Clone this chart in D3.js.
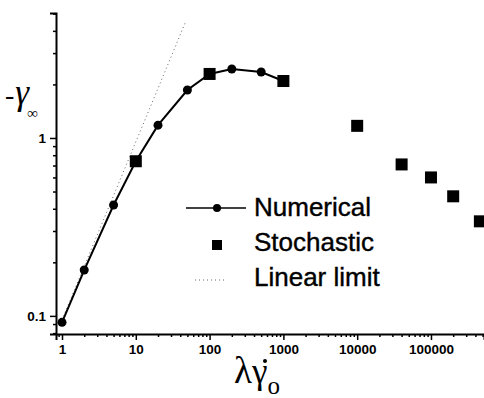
<!DOCTYPE html>
<html lang="en">
<head>
  <meta charset="UTF-8">
  <title>Gamma infinity vs shear rate</title>
  <script src="https://d3js.org/d3.v7.min.js"></script>
  <style>
    body { margin: 0; background: #fff; }
    .tick text { font: bold 13.5px "Liberation Sans", Arial, sans-serif; fill: #000; }
    .legend text { font: 26px "Liberation Sans", Arial, sans-serif; fill: #000; stroke: #000; stroke-width: 0.4px; }
    .ttl { font-family: "Liberation Serif", "Times New Roman", serif; fill: #000; }
  </style>
</head>
<body>
  <svg width="484" height="398"></svg>
  <script>
    // numerical solution
    const numX = [1, 2, 5, 10, 20, 50, 100, 200, 500, 1000];
    const numY = [0.092, 0.181, 0.42, 0.74, 1.18, 1.86, 2.29, 2.44, 2.35, 2.09];
    // stochastic simulation
    const stoX = [10, 100, 1000, 10000, 40000, 100000, 200000, 460000];
    const stoY = [0.74, 2.29, 2.09, 1.17, 0.71, 0.60, 0.47, 0.34];
    // linear limit
    const linX = [1, 47];
    const linY = [0.095, 4.47];

    const xTicks = [1, 10, 100, 1000, 10000, 100000];
    const yTicks = [0.1, 1];

    const svg = d3.select("svg");

    const x = d3.scaleLog().domain([0.829, 5.23e5]).range([56, 484]);
    const y = d3.scaleLog().domain([0.0791, 5.04]).range([334, 13]);

    // minor ticks
    const xMinor = [];
    for (let e = -1; e <= 5; e++) for (let m = 2; m <= 9; m++) {
      const v = m * Math.pow(10, e);
      if (v > 0.829 && v < 5.23e5) xMinor.push(v);
    }
    const yMinor = [];
    for (let e = -2; e <= 0; e++) for (let m = 2; m <= 9; m++) {
      const v = m * Math.pow(10, e);
      if (v > 0.0791 && v <= 5.04) yMinor.push(v);
    }

    const xAxis = svg.append("g").attr("transform", "translate(0,334)");
    xAxis.call(d3.axisBottom(x).tickValues(xTicks).tickFormat(d3.format("d")).tickSize(6).tickPadding(4));
    xAxis.append("g").call(d3.axisBottom(x).tickValues(xMinor).tickFormat("").tickSize(3))
      .select(".domain").remove();

    const yAxis = svg.append("g").attr("transform", "translate(56,0)");
    yAxis.call(d3.axisLeft(y).tickValues(yTicks).tickFormat(d => d === 1 ? "1" : "0.1").tickSize(6).tickPadding(4));
    yAxis.append("g").call(d3.axisLeft(y).tickValues(yMinor).tickFormat("").tickSize(3))
      .select(".domain").remove();

    svg.selectAll(".domain").attr("stroke", "#000").attr("stroke-width", 2);
    svg.selectAll(".tick line").attr("stroke", "#000").attr("stroke-width", 1.5);

    // linear limit
    const line = d3.line().x(d => x(d[0])).y(d => y(d[1]));
    svg.append("path")
      .datum(d3.zip(linX, linY))
      .attr("d", line)
      .attr("fill", "none")
      .attr("stroke", "#666")
      .attr("stroke-width", 1)
      .attr("stroke-dasharray", "1,3");

    // numerical
    svg.append("path")
      .datum(d3.zip(numX, numY))
      .attr("d", line)
      .attr("fill", "none")
      .attr("stroke", "#000")
      .attr("stroke-width", 2);
    svg.append("g").selectAll("circle")
      .data(d3.zip(numX, numY))
      .join("circle")
      .attr("cx", d => x(d[0]))
      .attr("cy", d => y(d[1]))
      .attr("r", 4.5)
      .attr("fill", "#000");

    // stochastic
    const sq = 12;
    svg.append("g").selectAll("rect")
      .data(d3.zip(stoX, stoY))
      .join("rect")
      .attr("x", d => x(d[0]) - sq / 2)
      .attr("y", d => y(d[1]) - sq / 2)
      .attr("width", sq)
      .attr("height", sq)
      .attr("fill", "#000");

    // legend
    const lg = svg.append("g").attr("class", "legend");
    lg.append("line").attr("x1", 186).attr("x2", 246).attr("y1", 208).attr("y2", 208)
      .attr("stroke", "#000").attr("stroke-width", 1.5);
    lg.append("circle").attr("cx", 217).attr("cy", 208).attr("r", 4).attr("fill", "#000");
    lg.append("text").attr("x", 254).attr("y", 216).text("Numerical");
    lg.append("rect").attr("x", 212).attr("y", 240).attr("width", 10).attr("height", 10).attr("fill", "#000");
    lg.append("text").attr("x", 254).attr("y", 251).text("Stochastic");
    lg.append("line").attr("x1", 195).attr("x2", 224).attr("y1", 280).attr("y2", 280)
      .attr("stroke", "#666").attr("stroke-width", 1).attr("stroke-dasharray", "1,3");
    lg.append("text").attr("x", 254).attr("y", 286).text("Linear limit");

    // x axis title: lambda, gamma-dot, subscript o
    const xt = svg.append("text").attr("class", "ttl").attr("x", 234).attr("y", 383);
    xt.append("tspan").style("font-size", "37px").text("λ");
    xt.append("tspan").style("font-size", "35px").text("γ");
    xt.append("tspan").attr("dx", 0).attr("dy", 11).style("font-size", "25px").text("o");
    svg.append("circle").attr("cx", 265).attr("cy", 361).attr("r", 2).attr("fill", "#000");

    // y axis title
    const yt = svg.append("text").attr("class", "ttl").attr("x", 5).attr("y", 104);
    yt.append("tspan").style("font-size", "28px").text("-");
    yt.append("tspan").attr("dx", 1).style("font-size", "35px").style("font-style", "italic").text("γ");
    yt.append("tspan").attr("dx", -2).attr("dy", 14).style("font-size", "15px").style("font-weight", "bold").text("∞");
  </script>
</body>
</html>
